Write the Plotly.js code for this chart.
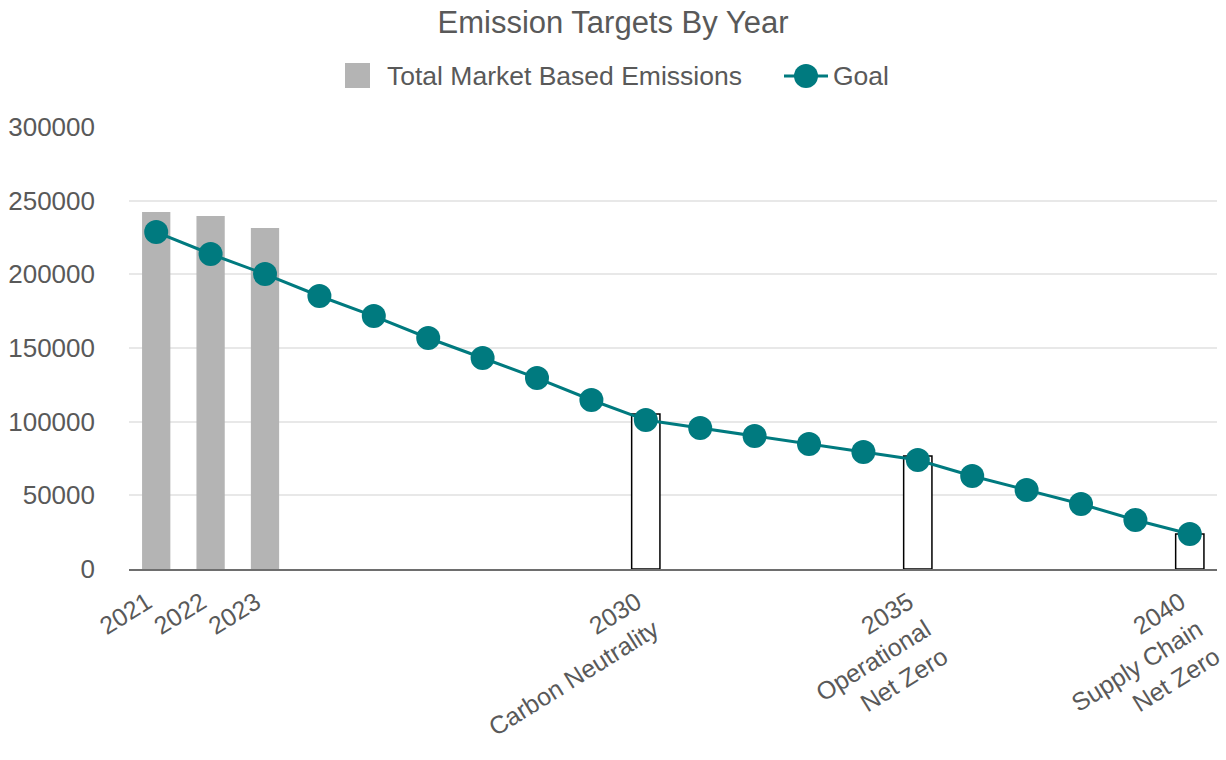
<!DOCTYPE html>
<html>
<head>
<meta charset="utf-8">
<script src="https://cdn.plot.ly/plotly-3.0.1.min.js"></script>
<style>html,body{margin:0;padding:0;background:#fff;}#chart{width:1226px;height:760px;}</style>
</head>
<body>
<div id="chart"></div>
<script>
const years = ["2021","2022","2023","2024","2025","2026","2027","2028","2029","2030","2031","2032","2033","2034","2035","2036","2037","2038","2039","2040"];
const emissionYears = ["2021","2022","2023"];
const emissionValues = [242300, 239600, 231400];
const targetYears = ["2030","2035","2040"];
const targetValues = [105200, 76700, 23800];
const goalValues = [228700, 213800, 200200, 185300, 171700, 156800, 143200, 129600, 114700, 101100, 95700, 90300, 84800, 79400, 74000, 63100, 53600, 44100, 33300, 23800];
const tickVals = ["2021","2022","2023","2030","2035","2040"];
const tickText = ["2021","2022","2023","2030<br>Carbon Neutrality","2035<br>Operational<br>Net Zero","2040<br>Supply Chain<br>Net Zero"];
const legendLabels = ["Total Market Based Emissions", "Goal"];

const textColor = "#595959";
const teal = "#007A7F";
const gray = "#B4B4B4";
const font = "'Liberation Sans', Arial, sans-serif";

const traces = [
  {
    type: "bar", name: legendLabels[0], showlegend: false,
    x: emissionYears, y: emissionValues,
    marker: {color: gray, line: {width: 0}},
    width: 0.52
  },
  {
    type: "bar", name: "Targets", showlegend: false,
    x: targetYears, y: targetValues,
    marker: {color: "#FFFFFF", line: {color: "#000000", width: 1.5}},
    width: 0.52
  },
  {
    type: "scatter", mode: "lines+markers", name: legendLabels[1], showlegend: false,
    x: years, y: goalValues,
    line: {color: teal, width: 3},
    marker: {color: teal, size: 24}
  }
];

// manual legend (plot area spans x 129..1217, y 127..569 in pixels)
const L = 129, W = 1088, B = 569, H = 442;
const px = v => (v - L) / W;
const py = v => (B - v) / H;
const legendY = py(76);

const layout = {
  width: 1226, height: 760,
  paper_bgcolor: "#fff", plot_bgcolor: "#fff",
  font: {family: font, color: textColor, size: 26},
  title: {text: "Emission Targets By Year", font: {size: 31, color: textColor, family: font}, x: 0.5, xanchor: "center", xref: "container", y: 1 - 22/760, yanchor: "middle", yref: "container"},
  margin: {l: 129, r: 9, t: 127, b: 191},
  barmode: "overlay",
  showlegend: false,
  xaxis: {
    type: "category", categoryorder: "array", categoryarray: years,
    tickmode: "array", tickvals: tickVals, ticktext: tickText,
    tickangle: -32, ticks: "", showgrid: false,
    showline: true, linecolor: "#6E6E6E", linewidth: 2,
    tickfont: {size: 25, color: textColor},
    ticklabelshift: -9, ticklabelstandoff: 7,
    range: [-0.5, 19.5]
  },
  yaxis: {
    range: [0, 300000], dtick: 50000, tickformat: "d",
    showgrid: true, gridcolor: "#E8E8E8", gridwidth: 2,
    zeroline: false, showline: false, ticks: "",
    tickfont: {size: 26, color: textColor}, ticklabelstandoff: 33
  },
  shapes: [
    {type: "rect", xref: "paper", yref: "paper", x0: px(345), x1: px(370), y0: py(88), y1: py(63), fillcolor: gray, line: {width: 0}},
    {type: "line", xref: "paper", yref: "paper", x0: px(784), x1: px(828), y0: legendY, y1: legendY, line: {color: teal, width: 3}},
    {type: "circle", xref: "paper", yref: "paper", xsizemode: "pixel", ysizemode: "pixel", xanchor: px(806), yanchor: legendY, x0: -12, x1: 12, y0: -12, y1: 12, fillcolor: teal, line: {width: 0}}
  ],
  annotations: [
    {xref: "paper", yref: "paper", x: px(385), y: legendY, xanchor: "left", yanchor: "middle", text: legendLabels[0], showarrow: false, font: {size: 26.5, color: textColor, family: font}},
    {xref: "paper", yref: "paper", x: px(831), y: legendY, xanchor: "left", yanchor: "middle", text: legendLabels[1], showarrow: false, font: {size: 26.5, color: textColor, family: font}}
  ]
};

Plotly.newPlot("chart", traces, layout, {displayModeBar: false, staticPlot: true});
</script>
</body>
</html>
